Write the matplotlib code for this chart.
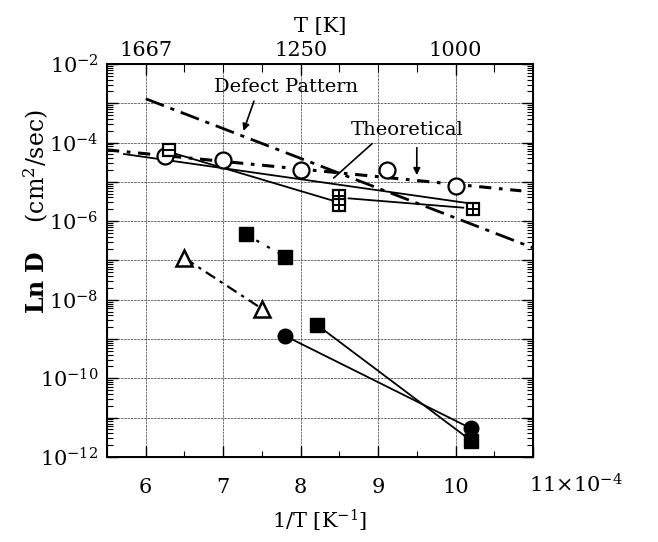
import matplotlib
matplotlib.use("Agg")
import matplotlib.pyplot as plt
from matplotlib.ticker import FixedLocator, NullFormatter, LogLocator
from matplotlib.transforms import offset_copy
import numpy as np

plt.rcParams['font.family'] = ['DejaVu Serif']
plt.rcParams['mathtext.fontset'] = 'dejavuserif'

# ---- data (x in units of 1e-4 1/K, D in cm^2/sec) ----
circ_x = [6.25, 7.0, 8.0, 9.12, 10.0]
circ_y = [4.6e-5, 3.7e-5, 2.0e-5, 1.95e-5, 7.9e-6]
osq_x = [6.3]
osq_y = [6.6e-5]
gsq_x = [8.5, 8.5, 10.23]
gsq_y = [4.3e-6, 2.6e-6, 2.0e-6]
fsq1_x = [7.29, 7.8]
fsq1_y = [4.6e-7, 1.25e-7]
tri_x = [6.5, 7.5]
tri_y = [1.15e-7, 5.9e-9]
fcir_x = [7.8, 10.2]
fcir_y = [1.2e-9, 5.3e-12]
fsq2_x = [8.21, 10.2]
fsq2_y = [2.3e-9, 2.6e-12]

defect_x = [6.0, 11.0]
defect_y = [1.3e-3, 2.1e-7]
upper_x = [5.5, 10.85]
upper_y = [6.5e-5, 5.9e-6]
theoB_x = [5.72, 10.2]
theoB_y = [5.1e-5, 2.8e-6]
lineA_x = [6.3, 8.4]
lineA_y = [5.8e-5, 3.4e-6]
gline_x = [8.62, 10.1]
gline_y = [3.8e-6, 2.2e-6]

xticks = [6, 7, 8, 9, 10, 11]
xticklabels = ['6', '7', '8', '9', '10', '']
last_xlabel = '11×10$^{-4}$'
top_ticks = [6, 8, 10]
top_labels = ['1667', '1250', '1000']
ytick_exp = [-2, -4, -6, -8, -10, -12]

fig = plt.figure(figsize=(6.58, 5.42), dpi=100)
ax = fig.add_axes([0.1626, 0.157, 0.6474, 0.725])
ax.set_yscale('log')
ax.set_xlim(5.5, 11)
ax.set_ylim(1e-12, 1e-2)

ax.grid(True, which='major', color='0.35', lw=0.6, ls=(0, (3, 1)))

# lines
ax.plot(defect_x, defect_y, color='k', lw=2.0, ls=(0, (7, 2.5, 1.5, 2.5)))
ax.plot(upper_x, upper_y, color='k', lw=2.2, ls=(0, (4, 2.5, 1.2, 2.5)))
ax.plot(theoB_x, theoB_y, color='k', lw=1.3)
ax.plot(lineA_x, lineA_y, color='k', lw=1.3)
ax.plot(gline_x, gline_y, color='k', lw=1.3)
ax.plot(tri_x, tri_y, color='k', lw=1.6, ls=(0, (5, 2.5, 1.5, 2.5)))
ax.plot(fsq1_x, fsq1_y, color='k', lw=1.6, ls=(0, (1.5, 4)))
ax.plot(fcir_x, fcir_y, color='k', lw=1.3)
ax.plot(fsq2_x, fsq2_y, color='k', lw=1.3)

# markers
ax.plot(circ_x, circ_y, 'o', ms=11.5, mfc='white', mec='k', mew=1.6, ls='none')
ax.plot(osq_x, osq_y, 's', ms=8.5, mfc='white', mec='k', mew=1.6, ls='none')
ax.plot(osq_x, osq_y, '_', ms=8.5, mec='k', mew=1.4, ls='none')
ax.plot(gsq_x, gsq_y, 's', ms=9, mfc='white', mec='k', mew=1.6, ls='none')
ax.plot(gsq_x, gsq_y, '+', ms=9, mec='k', mew=1.4, ls='none')
ax.plot(fsq1_x, fsq1_y, 's', ms=10, color='k', ls='none')
ax.plot(fsq2_x, fsq2_y, 's', ms=10, color='k', ls='none')
ax.plot(tri_x, tri_y, '^', ms=11, mfc='white', mec='k', mew=1.8, ls='none')
ax.plot(fcir_x, fcir_y, 'o', ms=10.5, color='k', ls='none')

# annotations
ax.text(7.81, 10**-2.58, 'Defect Pattern', fontsize=14, ha='center', va='center')
ax.annotate('', xy=(7.25, 10**-3.77), xytext=(7.41, 10**-2.88),
            arrowprops=dict(arrowstyle='-|>', color='k', lw=1.2, mutation_scale=10))
ax.text(9.38, 10**-3.67, 'Theoretical', fontsize=14, ha='center', va='center')
ax.annotate('', xy=(8.40, 10**-4.95), xytext=(8.95, 10**-3.98),
            arrowprops=dict(arrowstyle='-', color='k', lw=1.2))
ax.annotate('', xy=(9.5, 10**-4.9), xytext=(9.5, 10**-4.06),
            arrowprops=dict(arrowstyle='-|>', color='k', lw=1.2, mutation_scale=10))

# ticks
ax.set_xticks(xticks)
ax.set_xticklabels(xticklabels)
ax.set_xticks([6.5, 7.5, 8.5, 9.5, 10.5], minor=True)
ax.set_yticks([10.0**e for e in range(-12, -1)])
ax.set_yticklabels([('$10^{%d}$' % e) if e in ytick_exp else '' for e in range(-12, -1)])
ax.yaxis.set_minor_locator(LogLocator(base=10, subs=np.arange(2, 10), numticks=100))
ax.yaxis.set_minor_formatter(NullFormatter())
ax.tick_params(which='both', direction='in', top=False, right=True, labelsize=15)
ax.tick_params(which='major', length=8, width=1.0)
ax.tick_params(which='minor', length=4, width=0.8)
ax.tick_params(axis='x', pad=15)
ax.tick_params(axis='y', pad=6)

for s in ax.spines.values():
    s.set_linewidth(1.4)

tr = offset_copy(ax.transData, fig=fig, x=-3, y=-11.5, units='points')
ax.text(11, 1e-12, last_xlabel, transform=tr, fontsize=15,
        ha='left', va='top', clip_on=False)

# top axis
axt = ax.twiny()
axt.set_xlim(ax.get_xlim())
axt.set_xticks(top_ticks)
axt.set_xticklabels(top_labels)
axt.set_xticks([6.5, 7, 7.5, 8.5, 9, 9.5, 10.5], minor=True)
axt.tick_params(which='both', direction='in', labelsize=15, pad=3)
axt.tick_params(which='major', length=8, width=1.0)
axt.tick_params(which='minor', length=6, width=0.8)
axt.set_xlabel('T [K]', fontsize=15, labelpad=6)

ax.set_xlabel('1/T [K$^{-1}$]', fontsize=15, labelpad=8)
fig.text(0.055, 0.61, r'$\mathbf{Ln\ D}$' + '    (cm$^2$/sec)', rotation=90,
         fontsize=17, ha='center', va='center')

fig.savefig('out.png', dpi=100)
